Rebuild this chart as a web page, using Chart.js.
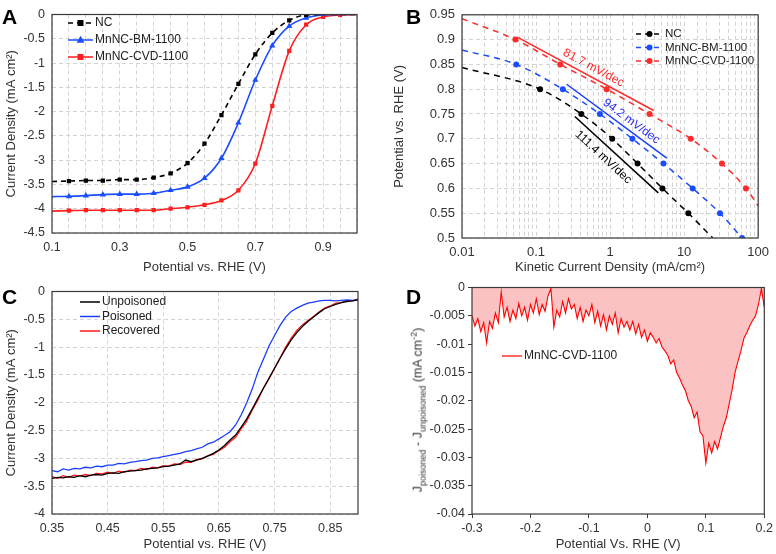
<!DOCTYPE html>
<html>
<head>
<meta charset="utf-8">
<script src="https://cdn.jsdelivr.net/npm/chart.js@4.4.1/dist/chart.umd.min.js"></script>
<style>
  body { margin: 0; background: #fff; }
  #fig { position: relative; width: 776px; height: 554px; font-family: "Liberation Sans", Arial, sans-serif; color: #222; }
  .panel { position: absolute; width: 388px; height: 277px; }
  .tag { position: absolute; font-weight: bold; font-size: 21px; line-height: 1; color: #000; }
  #ytitleD { position: absolute; left: 418px; top: 410px; transform: translate(-50%, -50%) rotate(-90deg);
             white-space: nowrap; font-size: 12.5px; color: #333; }
  #ytitleD sub, #ytitleD sup { font-size: 9px; }
</style>
</head>
<body>
<div id="fig">
  <div class="panel" style="left:0;top:0"><canvas id="chartA"></canvas></div>
  <div class="panel" style="left:388px;top:0"><canvas id="chartB"></canvas></div>
  <div class="panel" style="left:0;top:277px"><canvas id="chartC"></canvas></div>
  <div class="panel" style="left:388px;top:277px"><canvas id="chartD"></canvas></div>
  <div class="tag" style="left:2px;top:6px">A</div>
  <div class="tag" style="left:406px;top:6px">B</div>
  <div class="tag" style="left:2px;top:286px">C</div>
  <div class="tag" style="left:406px;top:286px">D</div>
  <div id="ytitleD">J<sub>poisoned</sub> - J<sub>unpoisoned</sub> (mA cm<sup>-2</sup>)</div>
</div>
<script>
// ---- Panel A: polarisation curves ----
const potA = [0.1, 0.15, 0.2, 0.25, 0.3, 0.35, 0.4, 0.45, 0.5, 0.55, 0.6, 0.65, 0.7, 0.75, 0.8, 0.85, 0.9, 0.95, 1.0];
const jNC  = [-3.44, -3.43, -3.42, -3.42, -3.40, -3.40, -3.36, -3.27, -3.06, -2.66, -2.07, -1.43, -0.82, -0.38, -0.12, -0.01, 0, 0, 0];
const jBM  = [-3.75, -3.745, -3.73, -3.71, -3.70, -3.70, -3.68, -3.62, -3.55, -3.37, -2.96, -2.23, -1.35, -0.64, -0.24, -0.07, -0.01, 0, 0];
const jCVD = [-4.05, -4.04, -4.03, -4.03, -4.03, -4.03, -4.03, -4.00, -3.97, -3.92, -3.83, -3.62, -3.07, -1.88, -0.75, -0.21, -0.05, -0.01, 0];
const gridAx = [0.1, 0.15, 0.2, 0.25, 0.3, 0.35, 0.4, 0.45, 0.5, 0.55, 0.6, 0.65, 0.7, 0.75, 0.8, 0.85, 0.9, 0.95, 1.0];
const labelAx = [0.1, 0.3, 0.5, 0.7, 0.9];
const ticksAy = [0, -0.5, -1, -1.5, -2, -2.5, -3, -3.5, -4, -4.5];

// ---- Panel B: Tafel plots ----
const ikNC  = [0.01, 0.1135, 0.409, 1.07, 2.35, 5.1, 11.4, 24.4];
const eNC   = [0.844, 0.80, 0.75, 0.70, 0.65, 0.60, 0.55, 0.50];
const ikBM  = [0.01, 0.054, 0.230, 0.728, 2.0, 5.26, 13.06, 30.5, 60.6];
const eBM   = [0.879, 0.85, 0.80, 0.75, 0.70, 0.65, 0.60, 0.55, 0.50];
const ikCVD = [0.01, 0.0526, 0.212, 0.90, 3.41, 12.3, 32.4, 68.5, 100];
const eCVD  = [0.942, 0.90, 0.85, 0.80, 0.75, 0.70, 0.65, 0.60, 0.565];
const tafelIkNC = [0.334, 4.48],   tafelENC = [0.745, 0.591];
const tafelIkBM = [0.259, 5.83],   tafelEBM = [0.810, 0.661];
const tafelIkCVD = [0.0558, 3.89], tafelECVD = [0.905, 0.757];
const slopeLabels = ['111.4 mV/dec', '94.2 mV/dec', '81.7 mV/dec'];
const ticksBy = [0.5, 0.55, 0.6, 0.65, 0.7, 0.75, 0.8, 0.85, 0.9, 0.95];

// ---- Panel C: poisoning test ----
const potC = [0.35, 0.36, 0.37, 0.38, 0.39, 0.40, 0.41, 0.42, 0.43, 0.44, 0.45, 0.46, 0.47, 0.48, 0.49,
              0.50, 0.51, 0.52, 0.53, 0.54, 0.55, 0.56, 0.57, 0.58, 0.59, 0.60, 0.61, 0.62, 0.63, 0.64,
              0.65, 0.66, 0.67, 0.68, 0.69, 0.70, 0.71, 0.72, 0.73, 0.74, 0.75, 0.76, 0.77, 0.78, 0.79,
              0.80, 0.81, 0.82, 0.83, 0.84, 0.85, 0.86, 0.87, 0.88, 0.89, 0.90];
const jUnpoisoned = [-3.36, -3.34, -3.35, -3.33, -3.34, -3.31, -3.33, -3.30, -3.29, -3.30, -3.27, -3.26, -3.27, -3.24, -3.23,
                     -3.22, -3.21, -3.19, -3.18, -3.17, -3.15, -3.14, -3.12, -3.10, -3.03, -3.06, -3.03, -3.00, -2.96, -2.91,
                     -2.85, -2.77, -2.67, -2.58, -2.44, -2.29, -2.11, -1.92, -1.74, -1.56, -1.38, -1.20, -1.03, -0.87, -0.74,
                     -0.63, -0.54, -0.46, -0.38, -0.31, -0.27, -0.23, -0.20, -0.18, -0.17, -0.15];
const jPoisoned = [-3.22, -3.24, -3.19, -3.21, -3.18, -3.19, -3.16, -3.17, -3.14, -3.15, -3.12, -3.12, -3.09, -3.10, -3.07,
                   -3.06, -3.04, -3.03, -3.00, -2.99, -2.97, -2.95, -2.93, -2.91, -2.88, -2.86, -2.83, -2.80, -2.74, -2.71,
                   -2.65, -2.59, -2.52, -2.40, -2.22, -2.00, -1.75, -1.45, -1.22, -0.98, -0.79, -0.61, -0.46, -0.36, -0.30,
                   -0.25, -0.21, -0.19, -0.17, -0.16, -0.16, -0.17, -0.16, -0.15, -0.16, -0.15];
const jRecovered = [-3.33, -3.36, -3.31, -3.34, -3.30, -3.32, -3.29, -3.31, -3.27, -3.28, -3.25, -3.27, -3.23, -3.25, -3.21,
                    -3.22, -3.18, -3.20, -3.16, -3.17, -3.13, -3.14, -3.10, -3.11, -3.07, -3.07, -3.02, -3.01, -2.95, -2.93,
                    -2.86, -2.80, -2.70, -2.62, -2.47, -2.33, -2.13, -1.95, -1.74, -1.57, -1.38, -1.19, -1.00, -0.84, -0.70,
                    -0.60, -0.52, -0.45, -0.37, -0.30, -0.26, -0.21, -0.20, -0.16, -0.17, -0.13];
const ticksCx = [0.35, 0.45, 0.55, 0.65, 0.75, 0.85];
const ticksCy = [0, -0.5, -1, -1.5, -2, -2.5, -3, -3.5, -4];

// ---- Panel D: difference current ----
const potD = [-0.300, -0.295, -0.290, -0.285, -0.280, -0.275, -0.270, -0.265, -0.260, -0.255,
              -0.250, -0.245, -0.240, -0.235, -0.230, -0.225, -0.220, -0.215, -0.210, -0.205,
              -0.200, -0.195, -0.190, -0.185, -0.180, -0.175, -0.170, -0.165, -0.160, -0.155,
              -0.150, -0.145, -0.140, -0.135, -0.130, -0.125, -0.120, -0.115, -0.110, -0.105,
              -0.100, -0.095, -0.090, -0.085, -0.080, -0.075, -0.070, -0.065, -0.060, -0.055,
              -0.050, -0.045, -0.040, -0.035, -0.030, -0.025, -0.020, -0.015, -0.010, -0.005,
              0.000, 0.005, 0.010, 0.015, 0.020, 0.025, 0.030, 0.035, 0.040, 0.045,
              0.050, 0.055, 0.060, 0.065, 0.070, 0.075, 0.080, 0.085, 0.090, 0.095,
              0.100, 0.105, 0.110, 0.115, 0.120, 0.125, 0.130, 0.135, 0.140, 0.145,
              0.150, 0.155, 0.160, 0.165, 0.170, 0.175, 0.180, 0.185, 0.190, 0.195, 0.200];
const jDiff = [-0.0050, -0.0068, -0.0055, -0.0078, -0.0062, -0.0098, -0.0060, -0.0072, -0.0045, -0.0062,
               -0.0008, -0.0052, -0.0035, -0.0060, -0.0040, -0.0055, -0.0028, -0.0050, -0.0035, -0.0058,
               -0.0030, -0.0045, -0.0020, -0.0048, -0.0030, -0.0042, -0.0015, -0.0002, -0.0070, -0.0040,
               -0.0052, -0.0025, -0.0045, -0.0020, -0.0038, -0.0030, -0.0055, -0.0035, -0.0060, -0.0040,
               -0.0050, -0.0030, -0.0062, -0.0042, -0.0068, -0.0048, -0.0075, -0.0050, -0.0065, -0.0045,
               -0.0080, -0.0055, -0.0070, -0.0060, -0.0075, -0.0060, -0.0082, -0.0065, -0.0088, -0.0075,
               -0.0095, -0.0080, -0.0088, -0.0098, -0.0090, -0.0105, -0.0112, -0.0120, -0.0135, -0.0128,
               -0.0150, -0.0160, -0.0172, -0.0182, -0.0200, -0.0210, -0.0230, -0.0220, -0.0255, -0.0262,
               -0.0310, -0.0275, -0.0292, -0.0272, -0.0285, -0.0265, -0.0245, -0.0230, -0.0205, -0.0180,
               -0.0150, -0.0130, -0.0112, -0.0090, -0.0080, -0.0068, -0.0058, -0.0050, -0.0030, -0.0002, -0.0035];
const ticksDx = [-0.3, -0.2, -0.1, 0, 0.1, 0.2];
const ticksDy = [0, -0.005, -0.01, -0.015, -0.02, -0.025, -0.03, -0.035, -0.04];

// ---- shared styling ----
const W = 388, H = 277;
const FONT = '"Liberation Sans", Arial, sans-serif';
const tickFont = { family: FONT, size: 12.5 };
const titleFont = { family: FONT, size: 13 };
const GRID = '#d4d4d4';

function pts(xs, ys) {
    return xs.map((x, i) => ({ x: x, y: ys[i] }));
}
function fixed(list) {
    return scale => { scale.ticks = list.map(v => ({ value: v })); };
}

// marker drawn in the hand-placed legends
function drawMarker(ctx, style, x, y, r, color) {
    ctx.fillStyle = color;
    ctx.beginPath();
    if (style === 'rect') {
        ctx.rect(x - r, y - r, 2 * r, 2 * r);
    } else if (style === 'triangle') {
        ctx.moveTo(x, y - r * 1.25);
        ctx.lineTo(x + r * 1.15, y + r * 0.8);
        ctx.lineTo(x - r * 1.15, y + r * 0.8);
        ctx.closePath();
    } else if (style === 'circle') {
        ctx.arc(x, y, r, 0, Math.PI * 2);
    }
    ctx.fill();
}

// frame, hand-placed legend and slope notes
const extras = {
    id: 'extras',
    afterDatasetsDraw(chart, args, opts) {
        const ctx = chart.ctx;
        const a = chart.chartArea;
        ctx.save();
        ctx.strokeStyle = '#3a3a3a';
        ctx.lineWidth = 1.2;
        ctx.strokeRect(a.left, a.top, a.right - a.left, a.bottom - a.top);

        if (opts.legend) {
            const lg = opts.legend;
            ctx.font = lg.size + 'px ' + FONT;
            ctx.textBaseline = 'middle';
            lg.items.forEach((it, i) => {
                const y = lg.y + i * lg.gap;
                ctx.strokeStyle = it.color;
                ctx.lineWidth = it.width || 1.5;
                ctx.setLineDash(it.dash || []);
                ctx.beginPath();
                ctx.moveTo(lg.x, y);
                ctx.lineTo(lg.x + lg.len, y);
                ctx.stroke();
                ctx.setLineDash([]);
                if (it.marker) drawMarker(ctx, it.marker, lg.x + lg.len / 2, y, it.r || 3, it.color);
                ctx.fillStyle = '#222';
                ctx.fillText(it.text, lg.x + lg.len + 2, y);
            });
        }

        if (opts.notes) {
            const sx = chart.scales.x, sy = chart.scales.y;
            ctx.font = '12px ' + FONT;
            ctx.textAlign = 'center';
            ctx.textBaseline = 'middle';
            opts.notes.forEach(n => {
                const x1 = sx.getPixelForValue(n.from[0]), y1 = sy.getPixelForValue(n.from[1]);
                const x2 = sx.getPixelForValue(n.to[0]), y2 = sy.getPixelForValue(n.to[1]);
                const px = sx.getPixelForValue(n.at[0]), py = sy.getPixelForValue(n.at[1]);
                ctx.save();
                ctx.translate(px, py);
                ctx.rotate(Math.atan2(y2 - y1, x2 - x1));
                ctx.fillStyle = n.color;
                ctx.fillText(n.text, 0, 0);
                ctx.restore();
            });
        }
        ctx.restore();
    }
};

function baseOptions(box, xScale, yScale, pluginOpts) {
    xScale.afterFit = s => { s.height = H - box.bottom; };
    yScale.afterFit = s => { s.width = box.left; };
    return {
        responsive: true,
        maintainAspectRatio: false,
        animation: false,
        layout: { padding: { left: 0, top: box.top, right: W - box.right, bottom: 0 } },
        plugins: { legend: { display: false }, tooltip: { enabled: false }, extras: pluginOpts },
        scales: { x: xScale, y: yScale }
    };
}

function axisStyle(title, grid, size) {
    return {
        border: { display: false, dash: [4, 3] },
        grid: grid ? { color: GRID, drawTicks: false, lineWidth: 1 } : { display: false },
        ticks: { font: { family: FONT, size: size || tickFont.size }, color: '#333', padding: 7, autoSkip: false, maxRotation: 0 },
        title: { display: true, text: title, font: titleFont, color: '#333', padding: { top: 4, bottom: 2 } }
    };
}

// ---- Chart A ----
const lastMarkA = [15, 15, 17];
const xA = Object.assign(axisStyle('Potential vs. RHE (V)', true), {
    type: 'linear', min: 0.1, max: 1.0, afterBuildTicks: fixed(gridAx)
});
xA.ticks.callback = v => labelAx.some(t => Math.abs(t - v) < 1e-9) ? String(v) : '';
const yA = Object.assign(axisStyle('Current Density (mA cm\u00B2)', true), {
    type: 'linear', min: -4.5, max: 0, afterBuildTicks: fixed(ticksAy)
});
yA.ticks.callback = v => String(v);

function seriesA(data, color, style, dash, last) {
    return {
        data: pts(potA, data),
        borderColor: color, backgroundColor: color, borderWidth: 1.6, borderDash: dash,
        cubicInterpolationMode: 'monotone',
        pointStyle: style,
        pointRadius: c => (c.dataIndex >= 1 && c.dataIndex <= last) ? (style === 'triangle' ? 3.6 : 3) : 0,
        pointBorderWidth: 0
    };
}

new Chart(document.getElementById('chartA'), {
    type: 'line',
    data: { datasets: [
        seriesA(jNC, '#000000', 'rect', [5, 4], lastMarkA[0]),
        seriesA(jBM, '#1a4dff', 'triangle', [], lastMarkA[1]),
        seriesA(jCVD, '#ff1f1f', 'rect', [], lastMarkA[2])
    ] },
    options: baseOptions({ left: 52, right: 357, top: 5, bottom: 233 }, xA, yA, {
        legend: { x: 68, y: 23, gap: 17, len: 25, size: 12, items: [
            { text: 'NC', color: '#000000', dash: [5, 4], marker: 'rect' },
            { text: 'MnNC-BM-1100', color: '#1a4dff', marker: 'triangle', r: 3.4 },
            { text: 'MnNC-CVD-1100', color: '#ff1f1f', marker: 'rect' }
        ] }
    }),
    plugins: [extras]
});

// ---- Chart B ----
const xB = Object.assign(axisStyle('Kinetic Current Density (mA/cm\u00B2)', true, 13), {
    type: 'logarithmic', min: 0.01, max: 100
});
xB.ticks.callback = v => {
    const l = Math.log10(v);
    return Math.abs(l - Math.round(l)) < 1e-6 ? String(+v.toPrecision(3)) : '';
};
const yB = Object.assign(axisStyle('Potential vs. RHE (V)', true, 13), {
    type: 'linear', min: 0.5, max: 0.95, afterBuildTicks: fixed(ticksBy)
});
yB.ticks.callback = v => String(v);

function seriesB(xs, ys, color, lastMarker) {
    return {
        data: pts(xs, ys),
        borderColor: color, backgroundColor: color, borderWidth: 1.5, borderDash: [6, 5],
        cubicInterpolationMode: 'monotone',
        pointStyle: 'circle',
        pointRadius: c => (c.dataIndex >= 1 && c.dataIndex <= lastMarker) ? 3 : 0,
        pointBorderWidth: 0
    };
}
function tafelLine(xs, ys, color) {
    return { data: pts(xs, ys), borderColor: color, borderWidth: 1.5, pointRadius: 0 };
}

new Chart(document.getElementById('chartB'), {
    type: 'line',
    data: { datasets: [
        seriesB(ikNC, eNC, '#000000', 6),
        seriesB(ikBM, eBM, '#1a4dff', 8),
        seriesB(ikCVD, eCVD, '#ff2b2b', 7),
        tafelLine(tafelIkNC, tafelENC, '#000000'),
        tafelLine(tafelIkBM, tafelEBM, '#1a3dff'),
        tafelLine(tafelIkCVD, tafelECVD, '#ff2b2b')
    ] },
    options: baseOptions({ left: 74, right: 378, top: 6, bottom: 238 }, xB, yB, {
        legend: { x: 248, y: 34, gap: 13.5, len: 27, size: 11.5, items: [
            { text: 'NC', color: '#000000', dash: [5, 4], marker: 'circle' },
            { text: 'MnNC-BM-1100', color: '#1a4dff', dash: [5, 4], marker: 'circle' },
            { text: 'MnNC-CVD-1100', color: '#ff2b2b', dash: [5, 4], marker: 'circle' }
        ] },
        notes: [
            { text: slopeLabels[0], color: '#000000', at: [0.81, 0.663],
              from: [tafelIkNC[0], tafelENC[0]], to: [tafelIkNC[1], tafelENC[1]] },
            { text: slopeLabels[1], color: '#2b2bff', at: [1.94, 0.735],
              from: [tafelIkBM[0], tafelEBM[0]], to: [tafelIkBM[1], tafelEBM[1]] },
            { text: slopeLabels[2], color: '#ff2b2b', at: [0.597, 0.843],
              from: [tafelIkCVD[0], tafelECVD[0]], to: [tafelIkCVD[1], tafelECVD[1]] }
        ]
    }),
    plugins: [extras]
});

// ---- Chart C ----
const xC = Object.assign(axisStyle('Potential vs. RHE (V)', true), {
    type: 'linear', min: 0.35, max: 0.9, afterBuildTicks: fixed(ticksCx)
});
xC.ticks.callback = v => String(v);
const yC = Object.assign(axisStyle('Current Density (mA cm\u00B2)', true), {
    type: 'linear', min: -4, max: 0, afterBuildTicks: fixed(ticksCy)
});
yC.ticks.callback = v => String(v);

function traceC(ys, color) {
    return { data: pts(potC, ys), borderColor: color, borderWidth: 1.3, pointRadius: 0, tension: 0 };
}

new Chart(document.getElementById('chartC'), {
    type: 'line',
    data: { datasets: [
        traceC(jUnpoisoned, '#000000'),
        traceC(jPoisoned, '#1a3dff'),
        traceC(jRecovered, '#ff1a1a')
    ] },
    options: baseOptions({ left: 52, right: 358, top: 9, bottom: 237 }, xC, yC, {
        legend: { x: 80, y: 25, gap: 14.5, len: 20, size: 12, items: [
            { text: 'Unpoisoned', color: '#000000' },
            { text: 'Poisoned', color: '#1a3dff' },
            { text: 'Recovered', color: '#ff1a1a' }
        ] }
    }),
    plugins: [extras]
});

// ---- Chart D ----
const xD = Object.assign(axisStyle('Potential Vs. RHE (V)', false), {
    type: 'linear', min: -0.3, max: 0.2, afterBuildTicks: fixed(ticksDx)
});
xD.ticks.callback = v => String(+v.toFixed(3));
const yD = Object.assign(axisStyle('', false), {
    type: 'linear', min: -0.04, max: 0, afterBuildTicks: fixed(ticksDy)
});
yD.title.display = false;
yD.grid = { drawOnChartArea: false, drawTicks: true, tickLength: 4, color: '#3a3a3a' };
yD.ticks.padding = 3;
yD.ticks.callback = v => String(+v.toFixed(3));
xD.grid = { drawOnChartArea: false, drawTicks: true, tickLength: 4, color: '#3a3a3a' };
xD.ticks.padding = 3;

new Chart(document.getElementById('chartD'), {
    type: 'line',
    data: { datasets: [{
        data: pts(potD, jDiff),
        borderColor: '#ff0000', borderWidth: 1.1, pointRadius: 0, tension: 0,
        fill: 'origin', backgroundColor: 'rgba(245, 120, 120, 0.45)'
    }] },
    options: baseOptions({ left: 84, right: 377, top: 9, bottom: 237 }, xD, yD, {
        legend: { x: 114, y: 79, gap: 14, len: 20, size: 12, items: [
            { text: 'MnNC-CVD-1100', color: '#ff0000', width: 1.2 }
        ] }
    }),
    plugins: [extras]
});
</script>
</body>
</html>
